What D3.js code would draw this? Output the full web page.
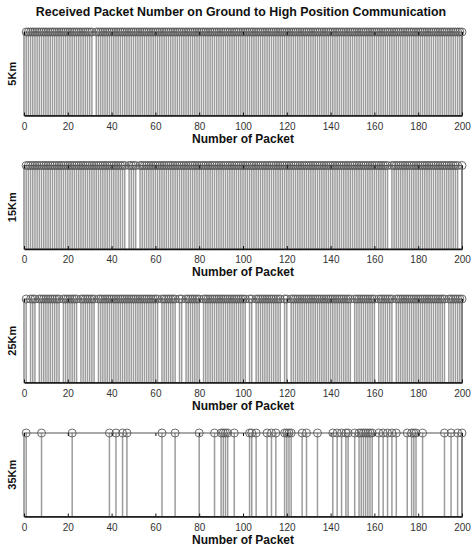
<!DOCTYPE html>
<html>
<head>
<meta charset="utf-8">
<script src="https://cdn.jsdelivr.net/npm/d3@7"></script>
<style>
  html, body { margin: 0; padding: 0; background: #fff; }
  svg { display: block; }
</style>
</head>
<body>
<div id="chart"></div>
<script>
// ---------------- DATA ----------------
const chartTitle = "Received Packet Number on Ground to High Position Communication";
const xLabel = "Number of Packet";
const distances = ["5Km", "15Km", "25Km", "35Km"];
const packetDomain = [0, 200];
const firstPacket = 1;
const lastPacket = 200;
const xTicks = [0, 20, 40, 60, 80, 100, 120, 140, 160, 180, 200];

// packets lost (not received) at 5, 15 and 25 km
const lost5Km = [32];
const lost15Km = [47, 52, 167, 199];
const lost25Km = [2, 6, 17, 25, 33, 62, 70, 73, 81, 102, 105, 118, 121, 150, 161, 169, 193];
// packets received at 35 km
const received35Km = [1, 8, 22, 39, 42, 45, 47, 63, 69, 80, 87, 90, 91, 92, 93, 96,
  103, 104, 106, 111, 113, 115, 119, 120, 121, 122, 127, 129, 134, 141, 143, 145,
  147, 148, 151, 153, 154, 155, 156, 157, 158, 159, 162, 164, 166, 168, 170, 175,
  177, 178, 179, 182, 192, 195, 198, 200];

// ---------------- BUILD ----------------
const allPackets = d3.range(firstPacket, lastPacket + 1);
function fromLost(lost) {
  const s = new Set(lost);
  return allPackets.filter(p => !s.has(p));
}
const receivedSets = [fromLost(lost5Km), fromLost(lost15Km), fromLost(lost25Km), received35Km];

const W = 471, H = 550;
const svg = d3.select("#chart").append("svg").attr("width", W).attr("height", H)
  .style("font-family", "Arial, 'Liberation Sans', sans-serif");

svg.append("text").attr("x", 241).attr("y", 16).attr("text-anchor", "middle")
  .attr("font-size", "12.4px").attr("font-weight", "bold").attr("fill", "#111")
  .text(chartTitle);

const x = d3.scaleLinear().domain(packetDomain).range([24, 462]);
const panelTops = [32, 165.5, 299, 433];
const panelH = 83.5;

distances.forEach((dist, i) => {
  const top = panelTops[i], bottom = top + panelH;
  const y = d3.scaleLinear().domain([0, 1]).range([bottom, top]);
  const g = svg.append("g");
  const data = receivedSets[i].map(p => ({ packet: p, value: 1 }));

  // stems
  g.selectAll("line.stem").data(data).enter().append("line")
    .attr("class", "stem")
    .attr("x1", d => x(d.packet)).attr("x2", d => x(d.packet))
    .attr("y1", y(0)).attr("y2", d => y(d.value))
    .attr("stroke", "#9c9c9c").attr("stroke-width", 1.5);

  // box
  g.append("rect").attr("x", x(packetDomain[0])).attr("y", y(1))
    .attr("width", x(packetDomain[1]) - x(packetDomain[0])).attr("height", y(0) - y(1))
    .attr("fill", "none").attr("stroke", "#555").attr("stroke-width", 1);

  // markers
  g.selectAll("circle.mk").data(data).enter().append("circle")
    .attr("class", "mk")
    .attr("cx", d => x(d.packet)).attr("cy", d => y(d.value)).attr("r", 4)
    .attr("fill", "none").attr("stroke", "#5a5a5a").attr("stroke-width", 0.9);

  // bottom axis
  const ax = g.append("g").attr("transform", `translate(0,${bottom})`)
    .call(d3.axisBottom(x).tickValues(xTicks).tickSizeInner(-3).tickSizeOuter(0).tickPadding(7));
  ax.select(".domain").attr("stroke", "#111").attr("stroke-width", 1.4);
  ax.selectAll(".tick line").attr("stroke", "#111");
  ax.selectAll(".tick text").attr("font-size", "10px").attr("fill", "#333")
    .style("font-family", "Arial, 'Liberation Sans', sans-serif");

  // top ticks
  const axt = g.append("g").attr("transform", `translate(0,${top})`)
    .call(d3.axisTop(x).tickValues(xTicks).tickSizeInner(-3).tickSizeOuter(0).tickFormat(""));
  axt.select(".domain").remove();
  axt.selectAll(".tick line").attr("stroke", "#111");

  // x label
  g.append("text").attr("x", 243).attr("y", bottom + 27).attr("text-anchor", "middle")
    .attr("font-size", "12px").attr("font-weight", "bold").attr("fill", "#111")
    .text(xLabel);

  // y label
  g.append("text").attr("transform", `translate(16,${(top + bottom) / 2}) rotate(-90)`)
    .attr("text-anchor", "middle")
    .attr("font-size", "11px").attr("font-weight", "bold").attr("fill", "#111")
    .text(dist);
});
</script>
</body>
</html>
